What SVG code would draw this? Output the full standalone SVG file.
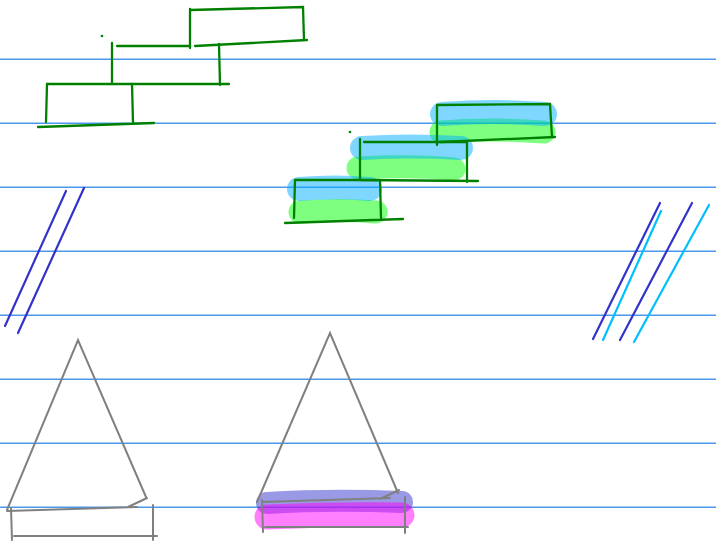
<svg xmlns="http://www.w3.org/2000/svg" width="716" height="544" viewBox="0 0 716 544">
<style>
.rule{stroke:#4a98ee;stroke-width:1.4;fill:none}
.g{stroke:#008000;stroke-width:2.3;fill:none;stroke-linecap:round}
.gr{stroke:#808080;stroke-width:2;fill:none;stroke-linecap:round}
.db{stroke:#3333cc;stroke-width:2.2;fill:none;stroke-linecap:round}
.cy{stroke:#00bfff;stroke-width:2.2;fill:none;stroke-linecap:round}
.hl{fill:none;stroke-linecap:round;stroke-opacity:0.5}
.hb{stroke:#00b0ff;stroke-width:24}
.hg{stroke:#00ff00;stroke-width:23}
.hp{stroke:#3333cc;stroke-width:22}
.hm{stroke:#ff00ff;stroke-width:25}
</style>
<rect width="716" height="544" fill="#ffffff"/>
<g id="rules">
<line class="rule" x1="0" y1="59.3" x2="716" y2="59.3"/>
<line class="rule" x1="0" y1="123.3" x2="716" y2="123.3"/>
<line class="rule" x1="0" y1="187.3" x2="716" y2="187.3"/>
<line class="rule" x1="0" y1="251.3" x2="716" y2="251.3"/>
<line class="rule" x1="0" y1="315.3" x2="716" y2="315.3"/>
<line class="rule" x1="0" y1="379.3" x2="716" y2="379.3"/>
<line class="rule" x1="0" y1="443.3" x2="716" y2="443.3"/>
<line class="rule" x1="0" y1="507.3" x2="716" y2="507.3"/>
</g>
<g id="stairs-left">
<circle cx="102" cy="36" r="1.3" fill="#008000"/>
<path class="g" d="M190 9 L190 48 M190 10 L303 7 L304 40 M117 46 L190 46 M195 46 L307 40"/>
<path class="g" d="M112 43 L112 83 M219 44 L220 85 M47 84 L229 84"/>
<path class="g" d="M47 84 L46 122 M132 84 L133 123 M38 127 L154 123"/>
</g>
<g id="stairs-highlighted">
<path class="hl hg" d="M441 132 Q490 128 544 132"/>
<path class="hl hb" d="M442 114 Q495 110 545 114"/>
<path class="hl hg" d="M358 168 Q410 165 454 169"/>
<path class="hl hb" d="M362 148 Q410 145 461 148"/>
<path class="hl hg" d="M300 212 Q340 209 376 212"/>
<path class="hl hb" d="M299 189 Q335 186 370 189"/>
<circle cx="350" cy="132" r="1.3" fill="#008000"/>
<path class="g" d="M437 105 L437 145 M437 105 L550 104 L552 137 M440 142 L555 137"/>
<path class="g" d="M364 142 L467 142 M360 139 L360 180 M467 142 L467 182 M360 180 L478 181"/>
<path class="g" d="M295 180 L380 180 M295 180 L294 218 M380 180 L381 218 M285 223 L403 219"/>
</g>
<g id="slashes-left">
<line class="db" x1="66" y1="191" x2="5" y2="326"/>
<line class="db" x1="84" y1="188" x2="18" y2="333"/>
</g>
<g id="slashes-right">
<line class="db" x1="660" y1="203" x2="593" y2="339"/>
<line class="cy" x1="661" y1="211" x2="603" y2="340"/>
<line class="db" x1="692" y1="203" x2="620" y2="340"/>
<line class="cy" x1="709" y1="205" x2="634" y2="342"/>
</g>
<g id="triangle-left">
<path class="gr" d="M7 510 L78 340 L146 497 M147 498 L128 507 M7 511 L137 507"/>
<path class="gr" d="M11 508 L12 540 M153 505 L153 540 M14 536 L157 536"/>
</g>
<g id="triangle-right">
<path class="hl hp" d="M267 503 Q330 499 402 502"/>
<path class="hl hm" d="M267 517 Q335 514 402 515"/>
<path class="gr" d="M257 502 L330 333 L398 493 M399 490 L380 499 M262 502 L390 498"/>
<path class="gr" d="M262 500 L263 532 M405 497 L405 533 M265 527 L408 527"/>
</g>
</svg>
